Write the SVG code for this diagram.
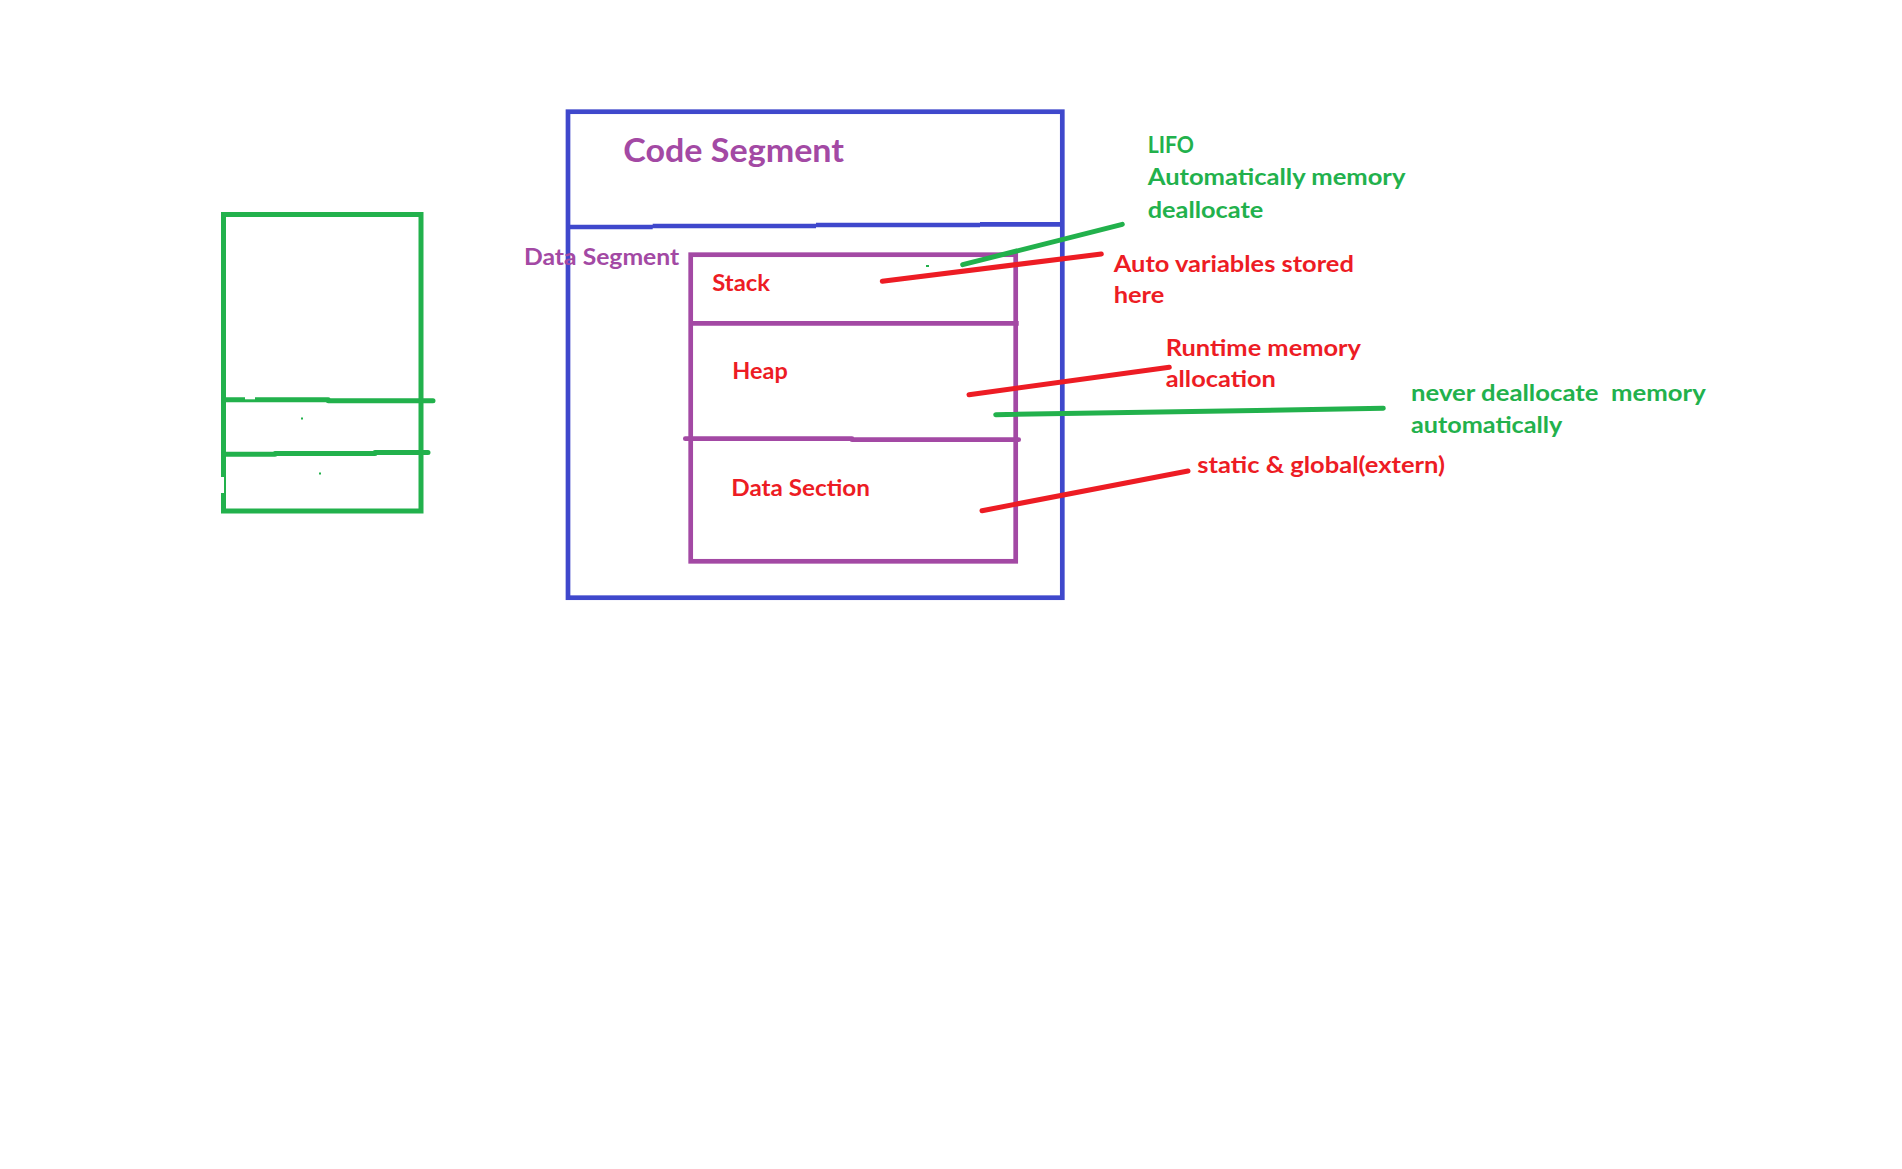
<svg xmlns="http://www.w3.org/2000/svg" width="1902" height="1169" viewBox="0 0 1902 1169">
<style>
  .t { font-family: Lato, "Open Sans", "Liberation Sans", sans-serif; font-weight: bold; white-space: pre; }
  .lbl { font-size: 22.5px; }
  .red { fill: #ED1C24; }
  .grn { fill: #22B14C; }
  .pur { fill: #A349A4; }
  .box { fill: none; stroke-linejoin: miter; }
  .ln { fill: none; stroke-width: 5; stroke-linecap: round; }
</style>
<rect width="1902" height="1169" fill="#FFFFFF"/>

<g id="green-box">
  <rect class="box" x="223.5" y="214.5" width="197.5" height="296.5" stroke="#22B14C" stroke-width="5"/>
  <path d="M223.5 399.8 H328.3 M328.3 400.7 H433" stroke="#22B14C" stroke-width="5" fill="none" stroke-linecap="round"/>
  <path d="M223.5 454.2 H275 M275 453.5 H375 M375 452.5 H428" stroke="#22B14C" stroke-width="5" fill="none" stroke-linecap="round"/>
  <rect x="220.5" y="477" width="3.5" height="16" fill="#FFFFFF"/>
  <rect x="245" y="396.8" width="10" height="2.5" fill="#FFFFFF"/>
  <rect x="301" y="417.5" width="2" height="2" fill="#22B14C"/>
  <rect x="319" y="472.5" width="2" height="2" fill="#22B14C"/>
</g>

<g id="memory-layout">
  <rect class="box" x="568" y="111.7" width="494.3" height="486" stroke="#3F48CC" stroke-width="4.7"/>
  <path d="M568 227 H652.7 M652.7 226 H816 M816 225 H980 M980 224.3 H1062" stroke="#3F48CC" stroke-width="4.7" fill="none"/>
</g>

<g id="code-segment">
  <text class="t pur" x="623.3" y="161.5" font-size="32" textLength="220.7" lengthAdjust="spacingAndGlyphs">Code Segment</text>
</g>

<g id="data-segment">
  <text class="t pur lbl" x="524" y="265" textLength="155.3" lengthAdjust="spacingAndGlyphs">Data Segment</text>
  <rect class="box" x="690.7" y="254.7" width="325" height="306.6" stroke="#A349A4" stroke-width="4.7"/>
</g>

<g id="stack">
  <text class="t red lbl" x="712.3" y="291" textLength="57.7" lengthAdjust="spacingAndGlyphs">Stack</text>
  <path d="M693 323.3 H1018.7" stroke="#A349A4" stroke-width="4.7" fill="none"/>
</g>

<g id="heap">
  <text class="t red lbl" x="732.3" y="379.4" textLength="55.4" lengthAdjust="spacingAndGlyphs">Heap</text>
  <path d="M685.3 438.7 H852 M852 439.7 H1018.7" stroke="#A349A4" stroke-width="4.7" fill="none" stroke-linecap="round"/>
</g>

<g id="data-section">
  <text class="t red lbl" x="731.3" y="495.7" textLength="138.7" lengthAdjust="spacingAndGlyphs">Data Section</text>
</g>

<g id="note-lifo">
  <text class="t grn lbl" x="1147.7" y="152.7" textLength="46.3" lengthAdjust="spacingAndGlyphs">LIFO</text>
  <text class="t grn lbl" x="1147.7" y="185" textLength="257.7" lengthAdjust="spacingAndGlyphs">Automatically memory</text>
  <text class="t grn lbl" x="1147.7" y="218.4" textLength="115.7" lengthAdjust="spacingAndGlyphs">deallocate</text>
</g>

<g id="note-auto">
  <text class="t red lbl" x="1113.7" y="271.7" textLength="240.2" lengthAdjust="spacingAndGlyphs">Auto variables stored</text>
  <text class="t red lbl" x="1113.7" y="303" textLength="50.6" lengthAdjust="spacingAndGlyphs">here</text>
</g>

<g id="note-runtime">
  <text class="t red lbl" x="1165.7" y="355.7" textLength="195.3" lengthAdjust="spacingAndGlyphs">Runtime memory</text>
  <text class="t red lbl" x="1165.7" y="387.4" textLength="110.2" lengthAdjust="spacingAndGlyphs">allocation</text>
</g>

<g id="note-never">
  <text class="t grn lbl" x="1411" y="400.7" textLength="294.7" lengthAdjust="spacingAndGlyphs">never deallocate  memory</text>
  <text class="t grn lbl" x="1411" y="433" textLength="151.3" lengthAdjust="spacingAndGlyphs">automatically</text>
</g>

<g id="note-static">
  <text class="t red lbl" x="1197.3" y="473.4" textLength="247.7" lengthAdjust="spacingAndGlyphs">static &amp; global(extern)</text>
</g>

<g id="connectors">
  <line class="ln" x1="962.7" y1="264.7" x2="1122.3" y2="224.3" stroke="#22B14C"/>
  <rect x="926" y="265" width="3" height="2" fill="#22B14C"/>
  <line class="ln" x1="882.3" y1="281.3" x2="1101.3" y2="254" stroke="#ED1C24"/>
  <line class="ln" x1="969" y1="394.7" x2="1169.3" y2="367.3" stroke="#ED1C24"/>
  <line class="ln" x1="995.7" y1="414.7" x2="1383.3" y2="408.3" stroke="#22B14C"/>
  <line class="ln" x1="982" y1="510.7" x2="1188" y2="471" stroke="#ED1C24"/>
</g>
</svg>
